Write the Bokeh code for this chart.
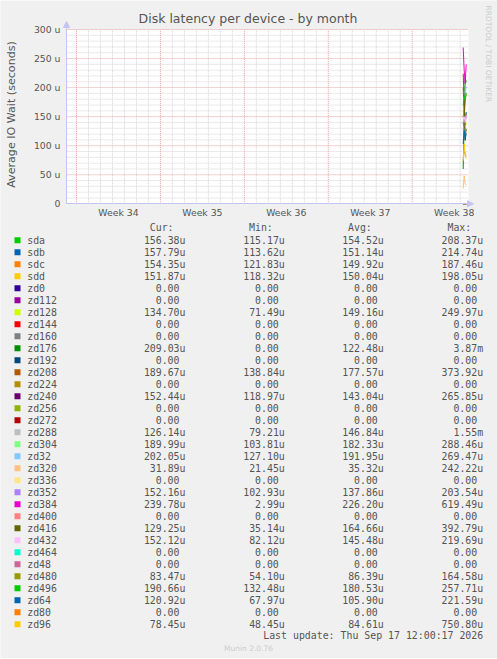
import math
from bokeh.plotting import figure
from bokeh.models import (Range1d, FixedTicker, LinearAxis, Arrow, NormalHead)
from bokeh.core.properties import value
from bokeh.embed import file_html
from bokeh.resources import INLINE

# ---------------- data ----------------
names = ["sda", "sdb", "sdc", "sdd", "zd0", "zd112", "zd128", "zd144", "zd160",
         "zd176", "zd192", "zd208", "zd224", "zd240", "zd256", "zd272", "zd288",
         "zd304", "zd32", "zd320", "zd336", "zd352", "zd384", "zd400", "zd416",
         "zd432", "zd464", "zd48", "zd480", "zd496", "zd64", "zd80", "zd96"]
colors = ["#00CC00", "#0066B3", "#FF8000", "#FFCC00", "#330099", "#990099",
          "#CCFF00", "#FF0000", "#808080", "#008F00", "#00487D", "#B35A00",
          "#B38F00", "#6B006B", "#8FB300", "#B30000", "#BEBEBE", "#80FF80",
          "#80C9FF", "#FFC080", "#FFE680", "#AA80FF", "#EE00CC", "#FF8080",
          "#666600", "#FFBFFF", "#00FFCC", "#CC6699", "#999900", "#00CC00",
          "#0066B3", "#FF8000", "#FFCC00"]
# legend statistics, in microseconds
cur_u = [156.38, 157.79, 154.35, 151.87, 0, 0, 134.70, 0, 0, 209.03, 0, 189.67, 0,
         152.44, 0, 0, 126.14, 189.99, 202.05, 31.89, 0, 152.16, 239.78, 0, 129.25,
         152.12, 0, 0, 83.47, 190.66, 120.92, 0, 78.45]
min_u = [115.17, 113.62, 121.83, 118.32, 0, 0, 71.49, 0, 0, 0, 0, 138.84, 0,
         118.97, 0, 0, 79.21, 103.81, 127.10, 21.45, 0, 102.93, 2.99, 0, 35.14,
         82.12, 0, 0, 54.10, 132.48, 67.97, 0, 48.45]
avg_u = [154.52, 151.14, 149.92, 150.04, 0, 0, 149.16, 0, 0, 122.48, 0, 177.57, 0,
         143.04, 0, 0, 146.84, 182.33, 191.95, 35.32, 0, 137.86, 226.20, 0, 164.66,
         145.48, 0, 0, 86.39, 180.53, 105.90, 0, 84.61]
max_u = [208.37, 214.74, 187.46, 198.05, 0, 0, 249.97, 0, 0, 3870.0, 0, 373.92, 0,
         265.85, 0, 0, 1550.0, 288.46, 269.47, 242.22, 0, 203.54, 619.49, 0, 392.79,
         219.69, 0, 0, 164.58, 257.71, 221.59, 0, 750.80]

# plotted samples (microseconds); hours before the last update
sample_hours = [6, 4, 2, 0]
last_update_day = 32.5          # days after the Week 34 grid line
zero_series = [0, 0, 0, 0]
sda = [150, 160, 145, 156]
sdb = [148, 155, 140, 158]
sdc = [150, 152, 147, 154]
sdd = [152, 150, 148, 152]
zd128 = [160, 145, 150, 135]
zd176 = [60, 140, 217, 209]
zd208 = [200, 150, 177, 190]
zd240 = [140, 130, 150, 152]
zd288 = [150, 140, 130, 126]
zd304 = [175, 185, 180, 190]
zd32 = [190, 195, 185, 202]
zd320 = [26, 48, 35, 32]
zd352 = [126, 143, 135, 152]
zd384 = [269, 230, 207, 240]
zd416 = [224, 180, 109, 129]
zd432 = [145, 150, 140, 152]
zd480 = [74, 90, 86, 83]
zd496 = [170, 185, 180, 191]
zd64 = [103, 126, 110, 121]
zd96 = [74, 103, 85, 78]
series = {"sda": sda, "sdb": sdb, "sdc": sdc, "sdd": sdd, "zd128": zd128,
          "zd176": zd176, "zd208": zd208, "zd240": zd240, "zd288": zd288,
          "zd304": zd304, "zd32": zd32, "zd320": zd320, "zd352": zd352,
          "zd384": zd384, "zd416": zd416, "zd432": zd432, "zd480": zd480,
          "zd496": zd496, "zd64": zd64, "zd96": zd96}

week_labels = ["Week 34", "Week 35", "Week 36", "Week 37", "Week 38"]
y_ticks = [0, 50, 100, 150, 200, 250, 300]
y_tick_labels = ["0", "50 u", "100 u", "150 u", "200 u", "250 u", "300 u"]
title = "Disk latency per device - by month"
y_title = "Average IO Wait (seconds)"
last_update = "Last update: Thu Sep 17 12:00:17 2026"

# ---------------- layout constants (pixels) ----------------
W, H = 497, 658
TXT = "#555555"
BG = "#f0f0f0"
AXIS = "#c4c4f4"
PX_PER_DAY = 11.99
DAY0_PX = 76.0                 # page x of first week line
PX_PER_U = 0.581
ZERO_PX = 203.3                # page y of value 0
X_LO, X_HI = -0.834, 32.69     # visible chart span (days)
Y_LO, Y_HI = 0, 300

p = figure(width=W, height=H, output_backend="svg", toolbar_location=None,
           x_range=Range1d(-DAY0_PX / PX_PER_DAY, (W - DAY0_PX) / PX_PER_DAY),
           y_range=Range1d(-(H - ZERO_PX) / PX_PER_U, ZERO_PX / PX_PER_U),
           min_border=0, x_axis_location=None, y_axis_location=None,
           background_fill_color=BG, border_fill_color=BG,
           outline_line_color=None)
p.grid.visible = False
p.extra_x_ranges = {"px": Range1d(0, W)}
p.extra_y_ranges = {"px": Range1d(H, 0)}

# plot area
p.quad(left=[X_LO], right=[X_HI], bottom=[Y_LO], top=[Y_HI],
       fill_color="white", line_color=None)

week_starts = [7 * i for i in range(len(week_labels))]
week_mids = [w + 3.5 for w in week_starts]
days = [d for d in range(0, 33) if d not in week_starts]
minor_y = [v for v in range(10, 300, 10) if v not in y_ticks]

grid_minor = dict(line_color="#d4d4d4", line_dash="1 1", line_width=1)
grid_major = dict(line_color="#e6a0a0", line_dash="1 1", line_width=1)
p.segment(x0=days, y0=[Y_LO] * len(days), x1=days, y1=[Y_HI] * len(days),
          **grid_minor)
p.segment(x0=[X_LO] * len(minor_y), y0=minor_y, x1=[X_HI] * len(minor_y),
          y1=minor_y, **grid_minor)
p.segment(x0=week_starts, y0=[Y_LO] * len(week_starts), x1=week_starts,
          y1=[Y_HI] * len(week_starts), **grid_major)
p.segment(x0=[X_LO] * len(y_ticks[1:]), y0=y_ticks[1:],
          x1=[X_HI] * len(y_ticks[1:]), y1=y_ticks[1:], **grid_major)

# series
xs = [last_update_day - h / 24 for h in sample_hours]
for n, c in zip(names, colors):
    p.line(xs, series.get(n, zero_series), line_color=c, line_width=1)

# axes
xaxis = LinearAxis(fixed_location=Y_LO, bounds=(X_LO, X_HI),
                   ticker=FixedTicker(ticks=week_mids),
                   major_label_overrides={m: l for m, l in zip(week_mids, week_labels)})
yaxis = LinearAxis(fixed_location=X_LO, bounds=(Y_LO, Y_HI),
                   ticker=FixedTicker(ticks=y_ticks),
                   major_label_overrides={t: l for t, l in zip(y_ticks, y_tick_labels)})
for ax in (xaxis, yaxis):
    ax.axis_line_color = AXIS
    ax.major_tick_out = 0
    ax.major_tick_in = 0
    ax.minor_tick_out = 0
    ax.minor_tick_in = 0
    ax.major_label_text_color = TXT
    ax.major_label_text_font = "DejaVu Sans"
    ax.major_label_text_font_size = "9.3px"
xaxis.major_label_standoff = 3
yaxis.major_label_standoff = 6
p.add_layout(xaxis, "below")
p.add_layout(yaxis, "left")

head = dict(size=6, fill_color=AXIS, line_color=AXIS)
p.add_layout(Arrow(end=NormalHead(**head), x_start=X_LO, y_start=Y_HI,
                   x_end=X_LO, y_end=313.8, line_color=AXIS))
p.add_layout(Arrow(end=NormalHead(**head), x_start=X_HI, y_start=Y_LO,
                   x_end=33.11, y_end=Y_LO, line_color=AXIS))

# texts around the chart (page-pixel coordinates)
px = dict(x_range_name="px", y_range_name="px")
p.text(x=[247.5], y=[18], text=[title], text_align="center",
       text_baseline="middle", text_font=value("DejaVu Sans"),
       text_font_size="12.5px", text_color=TXT, **px)
p.text(x=[11], y=[114], text=[y_title], angle=math.pi / 2, text_align="center",
       text_baseline="middle", text_font=value("DejaVu Sans"),
       text_font_size="11.1px", text_color=TXT, **px)
p.text(x=[487.7], y=[5], text=["RRDTOOL / TOBI OETIKER"], angle=-math.pi / 2,
       text_align="left", text_baseline="middle", text_font=value("DejaVu Sans"),
       text_font_size="7.5px", text_color="#cccccc", **px)

# legend
row0, row_step, char_w = 239.8, 12.0, 5.99
col_right = [185.0, 284.3, 383.3, 482.7]
rows_y = [row0 + row_step * i for i in range(len(names))]


def fmt(v):
    if v == 0:
        return "0.00", False
    if v >= 1000:
        return "%.2fm" % (v / 1000.0), True
    return "%.2fu" % v, True


p.rect(x=[17] * len(names), y=rows_y, width=6, height=6, fill_color=colors,
       line_color=None, **px)
mono = dict(text_font=value("DejaVu Sans Mono"), text_font_size="9.9px",
            text_color=TXT, text_baseline="middle", **px)
p.text(x=[26.7] * len(names), y=rows_y, text=names, text_align="left", **mono)

tx, ty, tt = [], [], []
for col, vals in zip(col_right, [cur_u, min_u, avg_u, max_u]):
    for yv, v in zip(rows_y, vals):
        s, unit = fmt(v)
        tx.append(col if unit else col - char_w)
        ty.append(yv)
        tt.append(s)
p.text(x=tx, y=ty, text=tt, text_align="right", **mono)

headers = ["Cur:", "Min:", "Avg:", "Max:"]
p.text(x=[c - 2 * char_w for c in col_right], y=[227.4] * 4, text=headers,
       text_align="right", **mono)
p.text(x=[482.7], y=[635.2], text=[last_update], text_align="right", **mono)
p.text(x=[248], y=[648], text=["Munin 2.0.76"], text_align="center",
       text_baseline="middle", text_font=value("DejaVu Sans"),
       text_font_size="7.5px", text_color="#cccccc", **px)

open("out.html", "w").write(file_html(p, INLINE))
